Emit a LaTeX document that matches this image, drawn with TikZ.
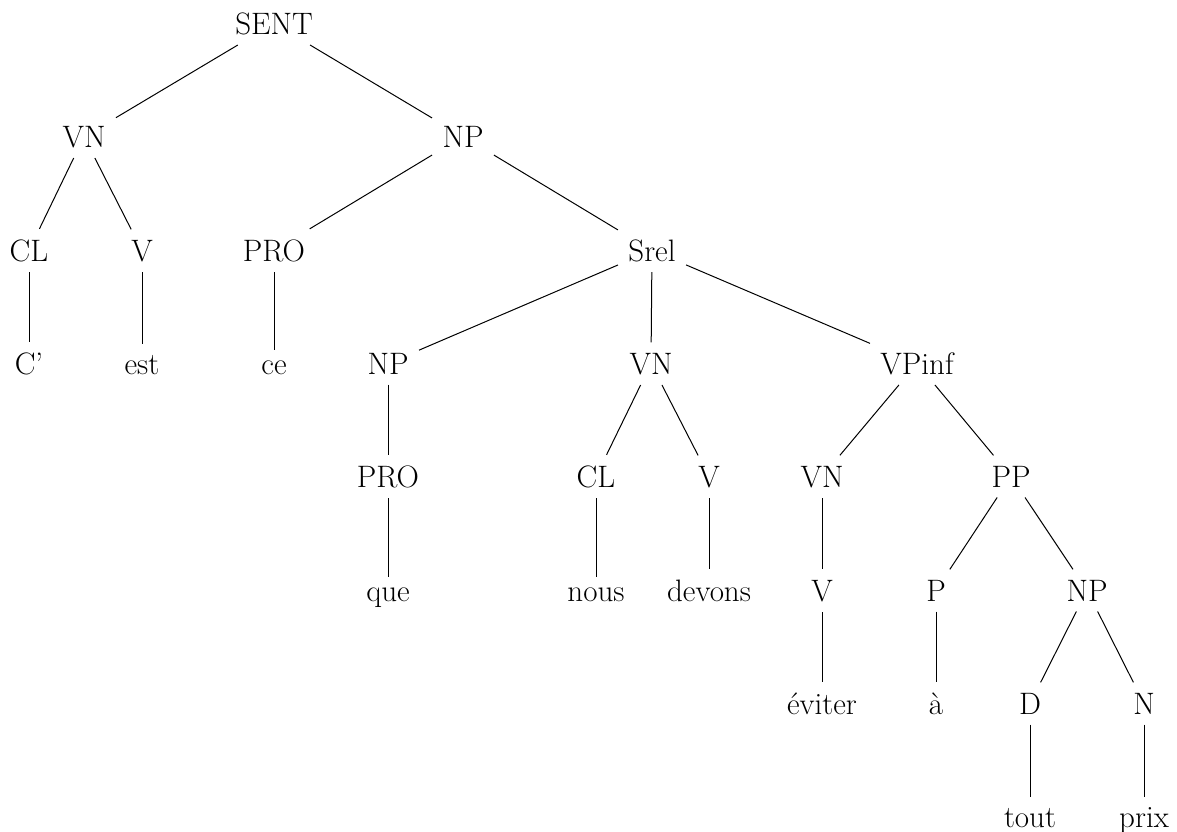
\documentclass[tikz,border=0pt]{standalone}
\begin{document}
\begin{tikzpicture}[x=1pt,y=-1pt,
  lbl/.style={font=\fontsize{31}{37}\selectfont, anchor=base, inner sep=10pt},
  every path/.style={line width=1pt}]
\useasboundingbox (0,0) rectangle (1177,831);
% row baselines: 34, 147, 261, 374, 487, 601, 714, 827
\node[lbl] (sent) at (274,34) {SENT};
\node[lbl] (vn1) at (84,147) {VN};
\node[lbl] (np1) at (463,147) {NP};
\node[lbl] (cl1) at (29,261) {CL};
\node[lbl] (v1) at (142,261) {V};
\node[lbl] (pro1) at (274,261) {PRO};
\node[lbl] (srel) at (652,261) {Srel};
\node[lbl] (c) at (29,374) {C’};
\node[lbl] (est) at (142,374) {est};
\node[lbl] (ce) at (274,374) {ce};
\node[lbl] (np2) at (388,374) {NP};
\node[lbl] (vn2) at (651,374) {VN};
\node[lbl] (vpinf) at (917,374) {VPinf};
\node[lbl] (pro2) at (388,487) {PRO};
\node[lbl] (cl2) at (596,487) {CL};
\node[lbl] (v2) at (709,487) {V};
\node[lbl] (vn3) at (822,487) {VN};
\node[lbl] (pp) at (1011,487) {PP};
\node[lbl] (que) at (388,601) {que};
\node[lbl] (nous) at (596,601) {nous};
\node[lbl] (devons) at (709,601) {devons};
\node[lbl] (v3) at (822,601) {V};
\node[lbl] (p) at (936,601) {P};
\node[lbl] (np3) at (1087,601) {NP};
\node[lbl] (eviter) at (822,714) {éviter};
\node[lbl] (a) at (936,714) {à};
\node[lbl] (d) at (1030,714) {D};
\node[lbl] (n) at (1144,714) {N};
\node[lbl] (tout) at (1030,827) {tout};
\node[lbl] (prix) at (1144,827) {prix};
\draw (sent) -- (vn1);
\draw (sent) -- (np1);
\draw (vn1) -- (cl1);
\draw (vn1) -- (v1);
\draw (cl1) -- (c);
\draw (v1) -- (est);
\draw (np1) -- (pro1);
\draw (np1) -- (srel);
\draw (pro1) -- (ce);
\draw (srel) -- (np2);
\draw (srel) -- (vn2);
\draw (srel) -- (vpinf);
\draw (np2) -- (pro2);
\draw (pro2) -- (que);
\draw (vn2) -- (cl2);
\draw (vn2) -- (v2);
\draw (cl2) -- (nous);
\draw (v2) -- (devons);
\draw (vpinf) -- (vn3);
\draw (vpinf) -- (pp);
\draw (vn3) -- (v3);
\draw (v3) -- (eviter);
\draw (pp) -- (p);
\draw (pp) -- (np3);
\draw (p) -- (a);
\draw (np3) -- (d);
\draw (np3) -- (n);
\draw (d) -- (tout);
\draw (n) -- (prix);
\end{tikzpicture}
\end{document}
